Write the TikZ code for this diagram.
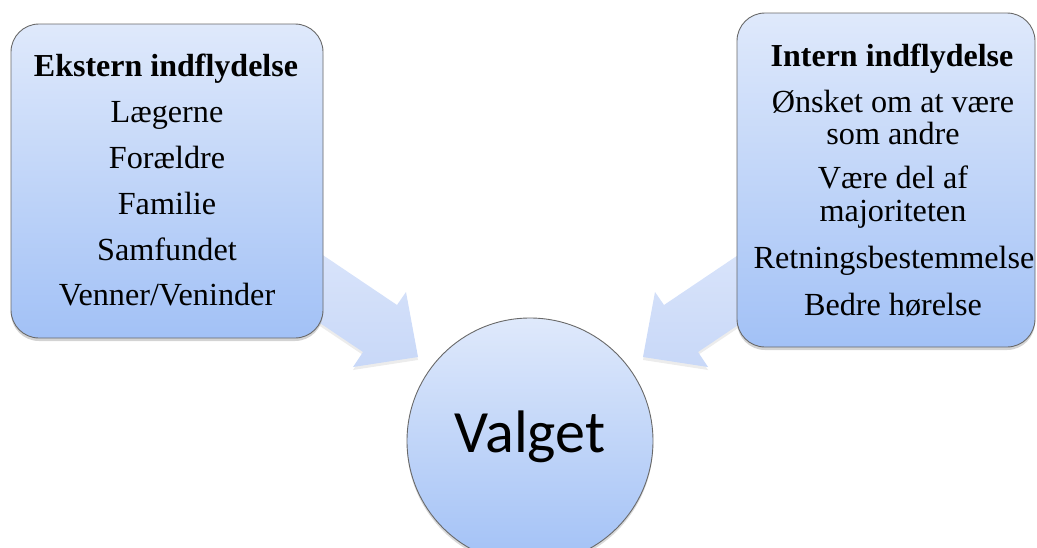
\documentclass[tikz,border=0pt]{standalone}
\usepackage{fontspec}
\setmainfont{Liberation Serif}
\newfontfamily\valgetfont{Carlito}
\usetikzlibrary{shadows}
\definecolor{boxtop}{RGB}{223,233,251}
\definecolor{boxbot}{RGB}{162,193,246}
\definecolor{arrtop}{RGB}{223,232,251}
\definecolor{arrbot}{RGB}{200,216,248}
\definecolor{edgecol}{RGB}{105,105,105}
\begin{document}
\begin{tikzpicture}[x=1pt,y=-1pt,
  infobox/.style={draw=edgecol, line width=0.9pt, rounded corners=28pt,
    top color=boxtop, bottom color=boxbot, inner sep=0pt,
    drop shadow={opacity=0.35, shadow xshift=0pt, shadow yshift=-3pt}},
  hub/.style={circle, draw=edgecol, line width=0.9pt, inner sep=0pt,
    top color=boxtop, bottom color=boxbot, minimum size=246pt,
    drop shadow={opacity=0.3, shadow xshift=0pt, shadow yshift=-3pt}},
  blockarrow/.style={top color=arrtop, bottom color=arrbot, draw=none,
    drop shadow={opacity=0.15, shadow xshift=0pt, shadow yshift=-3pt}},
  line/.style={anchor=base, inner sep=0pt, font=\fontsize{32.2}{36}\selectfont},
  head/.style={line, font=\fontsize{32}{36}\selectfont\bfseries}]
\useasboundingbox (0,0) rectangle (1037,547);

% block arrows (drawn first, tails hidden behind the boxes)
\coordinate (la1) at (250,206);
\coordinate (la2) at (397,305);
\coordinate (la3) at (406,292);
\coordinate (ltip) at (418,357);
\coordinate (la5) at (353,367);
\coordinate (la6) at (363,352);
\coordinate (la7) at (250,276);
\path[blockarrow] (la1) -- (la2) -- (la3) -- (ltip) -- (la5) -- (la6) -- (la7) -- cycle;

\coordinate (ra1) at (811,206);
\coordinate (ra2) at (664,305);
\coordinate (ra3) at (655,292);
\coordinate (rtip) at (643,357);
\coordinate (ra5) at (708,367);
\coordinate (ra6) at (698,352);
\coordinate (ra7) at (811,276);
\path[blockarrow] (ra1) -- (ra2) -- (ra3) -- (rtip) -- (ra5) -- (ra6) -- (ra7) -- cycle;

% boxes
\node[infobox, minimum width=312pt, minimum height=314pt] (ext) at (167,181) {};
\node[infobox, minimum width=298pt, minimum height=334pt] (int) at (886,180) {};

% hub
\node[hub] (valg) at (530,441) {};
\node[anchor=base, inner sep=0pt, font=\valgetfont\fontsize{60}{72}\selectfont] (valgt) at (530,452) {Valget};

% left texts
\node[head] (e0) at (166,76) {Ekstern indflydelse};
\node[line] (e1) at (167,122) {Lægerne};
\node[line] (e2) at (167,168) {Forældre};
\node[line] (e3) at (167,214) {Familie};
\node[line] (e4) at (167,260) {Samfundet};
\node[line] (e5) at (167,305) {Venner/Veninder};

% right texts
\node[head] (i0) at (892,66) {Intern indflydelse};
\node[line] (i1) at (893,112) {Ønsket om at være};
\node[line] (i2) at (893,144) {som andre};
\node[line] (i3) at (893,188) {Være del af};
\node[line] (i4) at (893,221) {majoriteten};
\node[line] (i5) at (894,268) {Retningsbestemmelse};
\node[line] (i6) at (893,315) {Bedre hørelse};
\end{tikzpicture}
\end{document}
